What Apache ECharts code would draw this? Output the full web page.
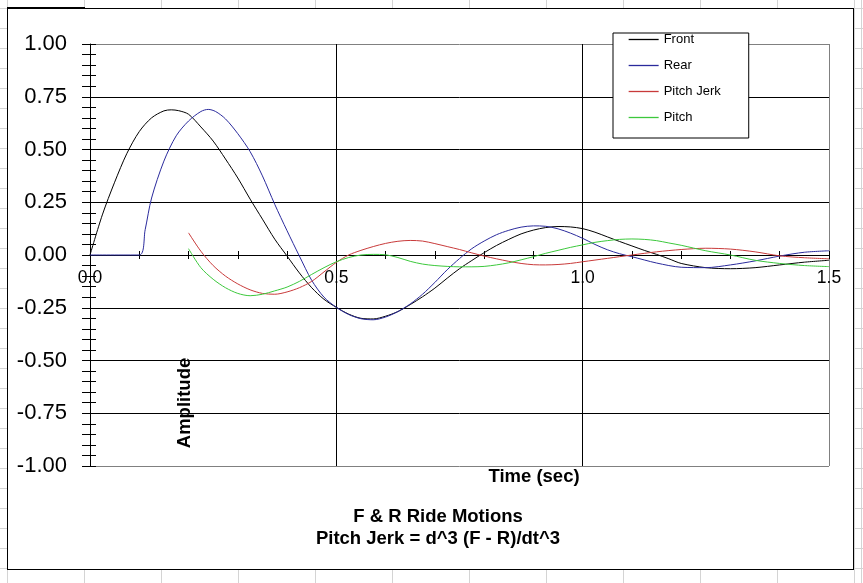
<!DOCTYPE html>
<html lang="en">
<head>
<meta charset="UTF-8">
<title>F &amp; R Ride Motions</title>
<script src="https://cdn.jsdelivr.net/npm/echarts@6/dist/echarts.min.js"></script>
<style>
  body {
    margin: 0; width: 863px; height: 583px; overflow: hidden; position: relative;
    background-color: #fff;
    background-image: linear-gradient(to right, #d4d4d4 1px, transparent 1px),
                      linear-gradient(to bottom, #d4d4d4 1px, transparent 1px);
    background-size: 77px 20px;
    background-position: 7px 8px;
  }
  .frame { position: absolute; left: 7px; top: 8px; width: 845px; height: 560px; border: 1px solid #000; background: #fff; }
  .mark { position: absolute; left: 7px; top: 7px; width: 78px; height: 2px; background: #000; }
  .edge { position: absolute; left: 861px; top: 0; width: 1px; height: 583px; background: #d4d4d4; }
  #chart { position: absolute; left: 0; top: 0; width: 863px; height: 583px; }
</style>
</head>
<body>
<div class="edge"></div>
<div class="frame"></div>
<div class="mark"></div>
<div id="chart"></div>
<script>
// [time (sec), amplitude]
var front = [
  [0, 0], [0.025, 0.19], [0.05, 0.345], [0.075, 0.482], [0.1, 0.585], [0.125, 0.65],
  [0.15, 0.683], [0.165, 0.688], [0.18, 0.684], [0.2, 0.667], [0.225, 0.607], [0.25, 0.54],
  [0.275, 0.455], [0.3, 0.365], [0.325, 0.265], [0.35, 0.17], [0.375, 0.075], [0.4, -0.005],
  [0.425, -0.085], [0.45, -0.155], [0.475, -0.21], [0.5, -0.248], [0.525, -0.28], [0.55, -0.3],
  [0.575, -0.303], [0.6, -0.29], [0.625, -0.268], [0.65, -0.235], [0.675, -0.198], [0.7, -0.157],
  [0.725, -0.11], [0.75, -0.065], [0.775, -0.026], [0.8, 0.011], [0.825, 0.045], [0.85, 0.074],
  [0.875, 0.1], [0.9, 0.118], [0.925, 0.13], [0.95, 0.135], [0.975, 0.133], [1.0, 0.125],
  [1.025, 0.108], [1.05, 0.086], [1.075, 0.064], [1.1, 0.043], [1.125, 0.022], [1.15, 0.003],
  [1.175, -0.018], [1.2, -0.04], [1.25, -0.06], [1.3, -0.065], [1.35, -0.06], [1.4, -0.047],
  [1.45, -0.034], [1.5, -0.025]
];
var rear = [
  [0, 0], [0.1, 0], [0.112, 0.12], [0.125, 0.27], [0.15, 0.445], [0.175, 0.565], [0.2, 0.635],
  [0.225, 0.68], [0.24, 0.69], [0.255, 0.68], [0.275, 0.645], [0.3, 0.575], [0.325, 0.49],
  [0.35, 0.375], [0.375, 0.24], [0.4, 0.115], [0.425, -0.005], [0.45, -0.12], [0.475, -0.2],
  [0.5, -0.248], [0.525, -0.282], [0.55, -0.302], [0.575, -0.307], [0.6, -0.294], [0.625, -0.268],
  [0.65, -0.232], [0.675, -0.186], [0.7, -0.13], [0.725, -0.07], [0.75, -0.017], [0.775, 0.03],
  [0.8, 0.066], [0.825, 0.096], [0.85, 0.117], [0.875, 0.132], [0.9, 0.138], [0.925, 0.136],
  [0.95, 0.124], [0.975, 0.104], [1.0, 0.079], [1.025, 0.05], [1.05, 0.025], [1.075, 0.006],
  [1.1, -0.008], [1.15, -0.038], [1.2, -0.058], [1.25, -0.06], [1.3, -0.047], [1.35, -0.028],
  [1.4, -0.005], [1.45, 0.013], [1.5, 0.02]
];
var pitchJerk = [
  [0.2, 0.105], [0.225, 0.018], [0.25, -0.05], [0.275, -0.1], [0.3, -0.137], [0.325, -0.165],
  [0.35, -0.182], [0.375, -0.186], [0.4, -0.175], [0.425, -0.155], [0.45, -0.125], [0.475, -0.08],
  [0.5, -0.035], [0.525, 0.0], [0.55, 0.022], [0.575, 0.04], [0.6, 0.055], [0.625, 0.065],
  [0.65, 0.069], [0.675, 0.066], [0.7, 0.054], [0.725, 0.04], [0.75, 0.026], [0.775, 0.01],
  [0.8, -0.005], [0.825, -0.018], [0.85, -0.03], [0.875, -0.04], [0.9, -0.046], [0.925, -0.047],
  [0.95, -0.045], [0.975, -0.04], [1.0, -0.032], [1.05, -0.016], [1.1, 0.0], [1.15, 0.015],
  [1.2, 0.026], [1.25, 0.032], [1.3, 0.028], [1.35, 0.015], [1.4, -0.004], [1.45, -0.013],
  [1.5, -0.018]
];
var pitch = [
  [0.2, 0.03], [0.225, -0.06], [0.25, -0.115], [0.275, -0.155], [0.3, -0.182], [0.325, -0.193],
  [0.35, -0.186], [0.375, -0.17], [0.4, -0.152], [0.425, -0.125], [0.45, -0.092], [0.475, -0.06],
  [0.5, -0.032], [0.525, -0.012], [0.55, 0.0], [0.575, 0.003], [0.6, 0.001], [0.625, -0.012],
  [0.65, -0.03], [0.675, -0.043], [0.7, -0.05], [0.725, -0.054], [0.75, -0.056], [0.775, -0.056],
  [0.8, -0.054], [0.825, -0.047], [0.85, -0.037], [0.875, -0.023], [0.9, -0.008], [0.925, 0.008],
  [0.95, 0.022], [0.975, 0.036], [1.0, 0.048], [1.025, 0.06], [1.05, 0.068], [1.075, 0.074],
  [1.1, 0.076], [1.125, 0.074], [1.15, 0.068], [1.175, 0.057], [1.2, 0.046], [1.25, 0.02],
  [1.3, 0.0], [1.35, -0.025], [1.4, -0.04], [1.45, -0.05], [1.5, -0.055]
];
var seriesNames = ['Front', 'Rear', 'Pitch Jerk', 'Pitch'];
var seriesColors = ['#000000', '#2a2a9c', '#c83a3a', '#3cc83c'];

var font = 'Liberation Sans, Arial, sans-serif';
// grid line colours: plot border is grey, inner lines black
var xLineColors = ['#000', '#000', '#000', '#808080'];
var yLineColors = ['#808080', '#000', '#000', '#000', '#000', '#000', '#000', '#000', '#808080'];

// plot box in page pixels; the time axis sits at amplitude 0 (middle of the box)
var plotTop = 44, plotBottom = 466;
var zeroOffset = -(plotBottom - plotTop) / 2;

var chart = echarts.init(document.getElementById('chart'), null, {renderer: 'canvas'});

var seriesList = [front, rear, pitchJerk, pitch].map(function (d, i) {
  return {
    name: seriesNames[i],
    type: 'line',
    data: d,
    symbol: 'none',
    smooth: 0.3,
    color: seriesColors[i],
    lineStyle: {width: 1, color: seriesColors[i]}
  };
});

var legendData = seriesNames.map(function (n, i) {
  return {name: n, lineStyle: {color: seriesColors[i], width: 1.3}};
});

chart.setOption({
  animation: false,
  backgroundColor: 'transparent',
  textStyle: {fontFamily: font},
  grid: {left: 90, top: plotTop, right: 34, bottom: 583 - plotBottom},
  legend: {
    orient: 'vertical',
    left: 613, top: 33,
    padding: [0, 28, 14, 15],
    itemWidth: 30, itemHeight: 13, itemGap: 13,
    itemStyle: {opacity: 0},          // hide the marker, keep the line
    backgroundColor: '#fff', borderColor: '#000', borderWidth: 1,
    textStyle: {fontSize: 13, color: '#000', fontFamily: font},
    data: legendData
  },
  xAxis: [{
    type: 'value', min: 0, max: 1.5, interval: 0.5, position: 'bottom', offset: zeroOffset,
    axisLine: {onZero: false, lineStyle: {color: '#000', width: 1}},
    axisTick: {show: true, length: 4, lineStyle: {color: '#000'}},
    minorTick: {show: true, splitNumber: 5, length: 4, lineStyle: {color: '#000'}},
    axisLabel: {margin: 14, fontSize: 17.5, color: '#000', fontFamily: font,
      formatter: function (v) { return v.toFixed(1); }},
    splitLine: {show: true, lineStyle: {color: xLineColors, width: 1}}
  }, {
    type: 'value', min: 0, max: 1.5, interval: 0.5, position: 'bottom', offset: zeroOffset,
    axisLine: {show: false, onZero: false},
    axisTick: {show: true, inside: true, length: 4, lineStyle: {color: '#000'}},
    minorTick: {show: true, splitNumber: 5, length: 4, lineStyle: {color: '#000'}},
    axisLabel: {show: false},
    splitLine: {show: false}
  }],
  yAxis: [{
    type: 'value', min: -1, max: 1, interval: 0.25, position: 'left',
    axisLine: {show: true, onZero: false, lineStyle: {color: '#000', width: 1}},
    axisTick: {show: true, length: 8, lineStyle: {color: '#000'}},
    minorTick: {show: true, splitNumber: 5, length: 8, lineStyle: {color: '#000'}},
    axisLabel: {margin: 23, fontSize: 22, color: '#000', fontFamily: font,
      formatter: function (v) { return v.toFixed(2); }},
    splitLine: {show: true, lineStyle: {color: yLineColors, width: 1}}
  }, {
    type: 'value', min: -1, max: 1, interval: 0.25, position: 'left',
    axisLine: {show: false, onZero: false},
    axisTick: {show: true, inside: true, length: 6, lineStyle: {color: '#000'}},
    minorTick: {show: true, splitNumber: 5, length: 6, lineStyle: {color: '#000'}},
    axisLabel: {show: false},
    splitLine: {show: false}
  }],
  graphic: [
    {type: 'text', x: 185, y: 403, rotation: Math.PI / 2, z: 10,
      style: {text: 'Amplitude', font: 'bold 18.5px ' + font, fill: '#000', align: 'center', verticalAlign: 'middle'}},
    {type: 'text', x: 534, y: 477, z: 10,
      style: {text: 'Time (sec)', font: 'bold 18.5px ' + font, fill: '#000', align: 'center', verticalAlign: 'middle'}},
    {type: 'text', x: 438, y: 528, z: 10,
      style: {text: 'F & R Ride Motions\nPitch Jerk = d^3 (F - R)/dt^3', font: 'bold 18.5px ' + font,
        lineHeight: 22, fill: '#000', align: 'center', verticalAlign: 'middle'}}
  ],
  series: seriesList
});
</script>
</body>
</html>
